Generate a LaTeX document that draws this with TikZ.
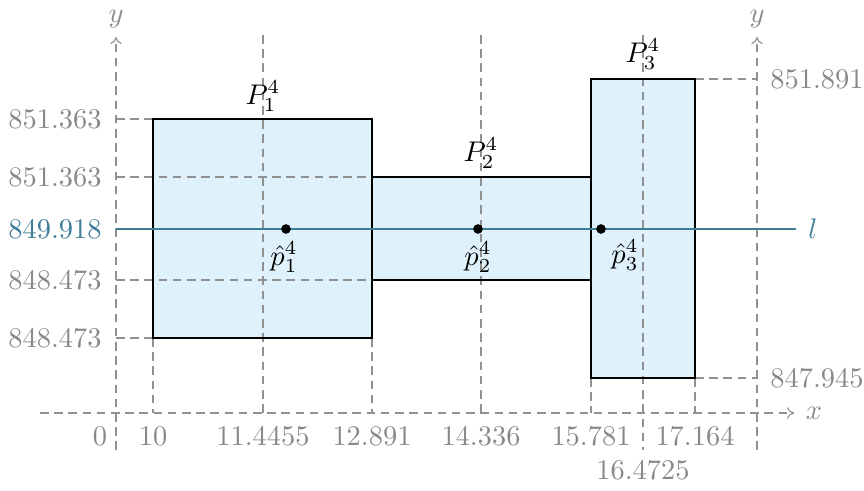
\documentclass[tikz,border=0pt]{standalone}
\usetikzlibrary{arrows.meta}
\definecolor{fillb}{RGB}{223,241,250}
\definecolor{lcol}{RGB}{62,125,152}
\definecolor{gtxt}{RGB}{136,136,136}
\definecolor{gline}{RGB}{145,145,145}
\tikzset{
  guide/.style={draw=gline, line width=0.4pt, dash pattern=on 3pt off 2pt},
  axisln/.style={guide, -{To[length=2.5pt,width=4pt]}},
  rectbox/.style={draw=black, line width=0.8pt},
  glab/.style={text=gtxt, inner sep=1pt},
  dot/.style={circle, fill=black, inner sep=0pt, minimum size=3.4pt},
}
\begin{document}
\begin{tikzpicture}[x=0.352pt, y=-0.352pt]
\useasboundingbox (0,0) rectangle (864,491);
% fills
\fill[fillb] (153,119) rectangle (372,338);
\fill[fillb] (372,177) rectangle (591,280);
\fill[fillb] (591,79) rectangle (695,378);
% axes
\draw[axisln] (116,450) -- (116,37) node[glab, anchor=south, yshift=2pt] (ly) {$y$};
\draw[axisln] (757,450) -- (757,37) node[glab, anchor=south, yshift=2pt] (ry) {$y$};
\draw[axisln] (40,413) -- (794,413) node[glab, anchor=west, xshift=3pt] (xl) {$x$};
% vertical guides
\draw[guide] (153,338) -- (153,413);
\draw[guide] (263,35) -- (263,413);
\draw[guide] (372,338) -- (372,413);
\draw[guide] (481,35) -- (481,413);
\draw[guide] (591,378) -- (591,413);
\draw[guide] (643,35) -- (643,450);
\draw[guide] (695,378) -- (695,413);
% horizontal guides
\draw[guide] (116,119) -- (153,119);
\draw[guide] (116,177) -- (372,177);
\draw[guide] (116,280) -- (372,280);
\draw[guide] (116,338) -- (153,338);
\draw[guide] (695,79) -- (757,79);
\draw[guide] (695,378) -- (757,378);
% rectangles
\draw[rectbox] (153,119) rectangle (372,338);
\draw[rectbox] (372,177) rectangle (591,280);
\draw[rectbox] (591,79) rectangle (695,378);
% line l
\coordinate (ls) at (116,229);
\coordinate (le) at (796,229);
\draw[lcol, line width=0.8pt] (ls) -- (le);
\node[text=lcol, anchor=west, inner sep=1pt] (lname) at (805,229) {$l$};
\node[text=lcol, anchor=east, inner sep=1pt] (lval) at (105,229) {849.918};
% points
\node[dot] (p1) at (286,229) {};
\node[dot] (p2) at (478,229) {};
\node[dot] (p3) at (601,229) {};
\node (p1l) at (284,257) {$\hat{p}_1^4$};
\node (p2l) at (478,257) {$\hat{p}_2^4$};
\node (p3l) at (625,255) {$\hat{p}_3^4$};
% rect labels
\node (P1) at (263,96) {$P_1^4$};
\node (P2) at (481,153) {$P_2^4$};
\node (P3) at (643,54) {$P_3^4$};
% y labels
\node[glab, anchor=east] (y1) at (105,119) {851.363};
\node[glab, anchor=east] (y2) at (105,177) {851.363};
\node[glab, anchor=east] (y3) at (105,280) {848.473};
\node[glab, anchor=east] (y4) at (105,338) {848.473};
\node[glab, anchor=west] (y5) at (767,79) {851.891};
\node[glab, anchor=west] (y6) at (767,378) {847.945};
% x labels
\node[glab] (x0) at (100,436) {0};
\node[glab] (x1) at (153,436) {10};
\node[glab] (x2) at (263,436) {11.4455};
\node[glab] (x3) at (372,436) {12.891};
\node[glab] (x4) at (481,436) {14.336};
\node[glab] (x5) at (591,436) {15.781};
\node[glab] (x6) at (695,436) {17.164};
\node[glab] (x7) at (643,470) {16.4725};
\end{tikzpicture}
\end{document}
